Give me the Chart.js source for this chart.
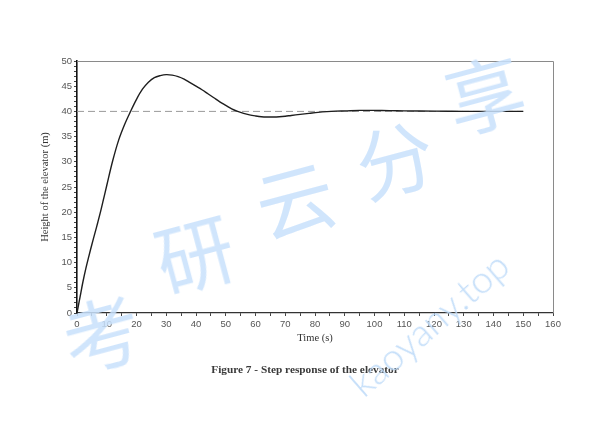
<!DOCTYPE html>
<html>
<head>
<meta charset="utf-8">
<script src="https://cdn.jsdelivr.net/npm/chart.js@4.4.1/dist/chart.umd.min.js"></script>
<style>
  html, body { margin: 0; padding: 0; background: #fff; }
  #wrap { position: relative; width: 589px; height: 434px; overflow: hidden; }
  #caption {
    position: absolute; left: 0; width: 610px; top: 363px;
    text-align: center; font: bold 11.3px "Liberation Serif", serif; color: #3a3a3a;
  }
  .wm { position: absolute; color: rgba(200, 224, 251, 0.85); pointer-events: none; white-space: nowrap; }
  .cjk { font: 78px "Noto Sans CJK SC", sans-serif; transform: rotate(-15deg); }
  #site { font: 300 38px Lato, sans-serif; transform: rotate(-41deg); left: 330px; top: 300px; color: rgba(190, 218, 248, 0.9); }
</style>
</head>
<body>
<div id="wrap">
  <canvas id="chart" width="589" height="434"></canvas>
  <div id="caption">Figure 7 - Step response of the elevator</div>
  <span class="wm cjk" style="left:62px;top:275px">考</span>
  <span class="wm cjk" style="left:155px;top:195px">研</span>
  <span class="wm cjk" style="left:255px;top:140px">云</span>
  <span class="wm cjk" style="left:355px;top:100px">分</span>
  <span class="wm cjk" style="left:445px;top:35px">享</span>
  <span class="wm" id="site">kaoyany.top</span>
</div>
<script>
// step response
var times = [0, 1, 2, 3, 4, 5, 6, 7, 8, 9, 10, 12, 14, 16, 18, 20, 22, 24, 26, 28, 30, 32, 34, 36, 38, 40, 42, 44, 46, 48, 50, 52, 54, 56, 58, 60, 62, 64, 66, 68, 70, 72, 75, 78, 81, 84, 87, 90, 95, 100, 105, 110, 120, 130, 140, 150];
var height = [0, 3.1, 6.2, 8.9, 11.3, 13.6, 15.8, 18, 20.3, 22.8, 25.3, 30.2, 34.3, 37.4, 40.0, 42.4, 44.4, 45.8, 46.7, 47.1, 47.3, 47.2, 46.9, 46.4, 45.7, 45, 44.3, 43.5, 42.7, 41.9, 41.2, 40.5, 40, 39.6, 39.3, 39.1, 38.95, 38.9, 38.9, 38.95, 39.05, 39.2, 39.4, 39.6, 39.8, 39.95, 40.05, 40.1, 40.2, 40.2, 40.15, 40.1, 40.05, 40, 40, 40];
var refTimes = [0, 150];
var refHeight = [40, 40];

var tickFont = { family: "Liberation Sans", size: 9.5 };
var titleFont = { family: "Liberation Serif", size: 10.5 };

function toPoints(xs, ys) {
  return xs.map(function(x, i) { return { x: x, y: ys[i] }; });
}

// gray frame on top and right side of the plot
var framePlugin = {
  id: "frame",
  beforeDatasetsDraw: function(chart) {
    var a = chart.chartArea;
    var ctx = chart.ctx;
    ctx.save();
    ctx.strokeStyle = "#8a8a8a";
    ctx.lineWidth = 1;
    ctx.beginPath();
    ctx.moveTo(a.left, a.top + 0.5);
    ctx.lineTo(a.right + 0.5, a.top + 0.5);
    ctx.lineTo(a.right + 0.5, a.bottom);
    ctx.stroke();
    ctx.restore();
  }
};

new Chart(document.getElementById("chart"), {
  type: "line",
  data: {
    datasets: [{
      data: toPoints(times, height),
      borderColor: "#1e1e1e",
      borderWidth: 1.4,
      pointRadius: 0,
      tension: 0.35,
      order: 1
    }, {
      data: toPoints(refTimes, refHeight),
      borderColor: "#9a9a9a",
      borderWidth: 1,
      borderDash: [7, 4],
      pointRadius: 0,
      order: 2
    }]
  },
  options: {
    responsive: false,
    animation: false,
    layout: { padding: { left: 0, top: 61, right: 36, bottom: 81 } },
    plugins: { legend: { display: false }, tooltip: { enabled: false } },
    scales: {
      x: {
        type: "linear",
        min: 0,
        max: 160,
        afterFit: function(scale) { scale.height = 40; },
        grid: { drawOnChartArea: false, tickLength: 3, color: "#444" },
        border: { color: "#333", width: 1.2 },
        ticks: {
          stepSize: 5,
          autoSkip: false,
          maxTicksLimit: 100,
          maxRotation: 0,
          padding: 3,
          font: tickFont,
          color: "#555",
          callback: function(v) { return v % 10 === 0 ? v : ""; }
        },
        title: { display: true, text: "Time (s)", font: titleFont, color: "#333", padding: { top: 0, bottom: 8 } }
      },
      y: {
        min: 0,
        max: 50,
        afterFit: function(scale) { scale.width = 77; },
        grid: { drawOnChartArea: false, tickLength: 3, color: "#444" },
        border: { color: "#111", width: 1.6 },
        ticks: {
          stepSize: 1,
          autoSkip: false,
          maxTicksLimit: 100,
          padding: 2,
          font: tickFont,
          color: "#555",
          callback: function(v) { return v % 5 === 0 ? v : ""; }
        },
        title: { display: true, text: "Height of the elevator (m)", font: titleFont, color: "#333", padding: { top: 39, bottom: 0 } }
      }
    }
  },
  plugins: [framePlugin]
});
</script>
</body>
</html>
